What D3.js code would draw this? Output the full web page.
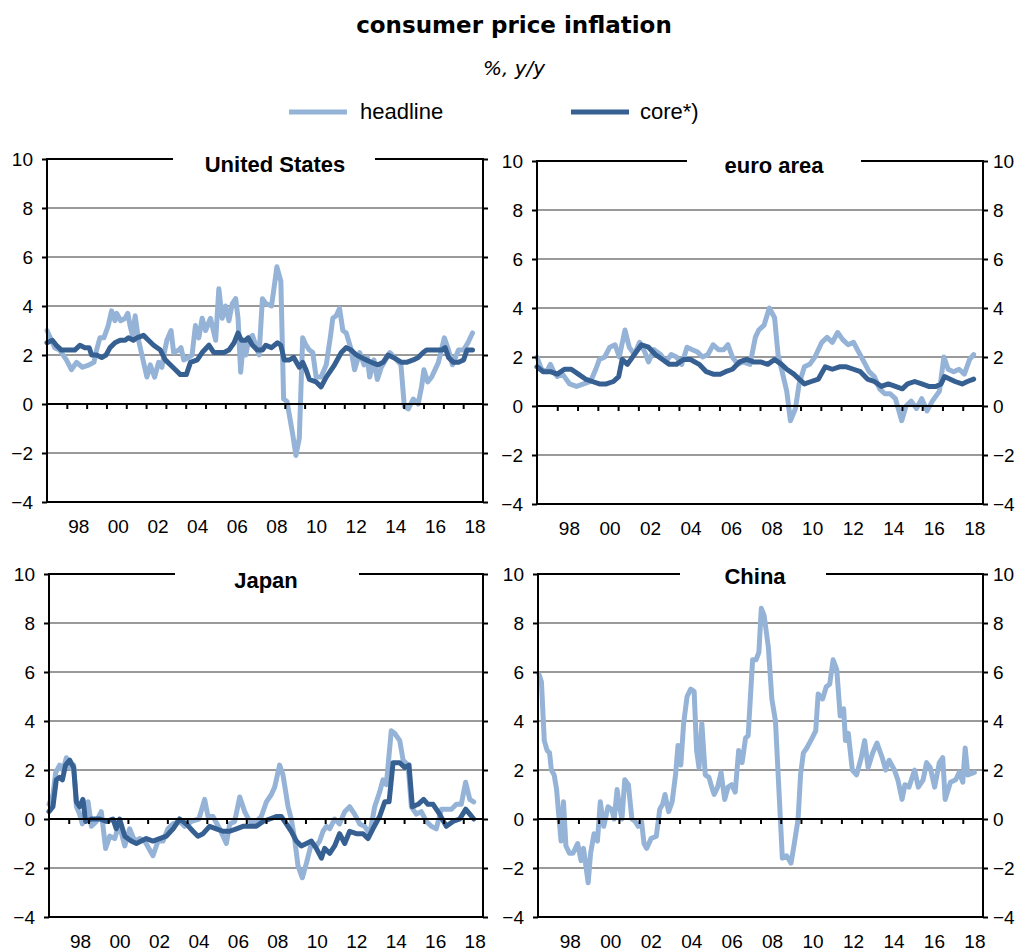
<!DOCTYPE html>
<html>
<head>
<meta charset="utf-8">
<script src="https://cdn.jsdelivr.net/npm/d3@7"></script>
<style>
  html, body { margin: 0; padding: 0; background: #fff; }
  svg { display: block; }
</style>
</head>
<body>
<svg id="chart" width="1026" height="952"></svg>
<script>
// ---------- DATA (decimal year, % y/y) ----------
const usHeadline = [[1997.00,3.0],[1997.39,2.3],[1997.64,2.2],[1997.98,1.8],[1998.23,1.4],[1998.49,1.7],[1998.79,1.5],[1999.13,1.6],[1999.37,1.7],[1999.50,2.2],[1999.67,2.7],[1999.87,2.7],[2000.09,3.2],[2000.26,3.8],[2000.43,3.4],[2000.52,3.7],[2000.72,3.4],[2000.94,3.5],[2001.08,3.7],[2001.19,3.2],[2001.31,2.8],[2001.45,3.6],[2001.62,2.6],[2001.79,2.0],[2002.04,1.1],[2002.21,1.6],[2002.43,1.1],[2002.63,1.7],[2002.80,1.5],[2002.92,2.1],[2003.05,2.6],[2003.26,3.0],[2003.39,2.1],[2003.65,2.2],[2003.76,2.3],[2003.90,1.8],[2004.15,1.9],[2004.32,2.0],[2004.49,3.2],[2004.66,2.7],[2004.83,3.5],[2005.00,3.0],[2005.25,3.5],[2005.51,2.6],[2005.67,4.7],[2005.84,3.5],[2006.01,4.0],[2006.18,3.4],[2006.35,4.1],[2006.52,4.3],[2006.64,3.5],[2006.77,1.3],[2006.91,2.5],[2007.03,2.0],[2007.20,2.7],[2007.37,2.8],[2007.53,2.4],[2007.70,2.0],[2007.87,4.3],[2008.04,4.1],[2008.33,4.0],[2008.50,5.0],[2008.60,5.6],[2008.80,5.0],[2008.94,0.2],[2009.11,0.1],[2009.39,-1.2],[2009.56,-2.1],[2009.73,-1.4],[2009.90,2.7],[2010.07,2.4],[2010.24,2.2],[2010.41,2.1],[2010.58,1.1],[2010.83,1.1],[2011.09,1.6],[2011.31,2.8],[2011.42,3.5],[2011.59,3.6],[2011.76,3.9],[2011.93,3.0],[2012.10,2.9],[2012.32,2.3],[2012.52,1.4],[2012.78,2.1],[2013.00,1.6],[2013.16,1.9],[2013.28,1.1],[2013.50,1.8],[2013.67,1.0],[2013.87,1.5],[2014.30,2.1],[2014.64,1.8],[2014.86,1.6],[2015.03,-0.1],[2015.23,-0.2],[2015.48,0.2],[2015.73,0.0],[2015.90,0.7],[2016.02,1.4],[2016.21,0.9],[2016.41,1.1],[2016.75,1.7],[2017.05,2.7],[2017.26,2.2],[2017.46,1.6],[2017.76,2.2],[2018.02,2.2],[2018.24,2.5],[2018.47,2.9]];
const usCore = [[1997.00,2.5],[1997.27,2.6],[1997.47,2.4],[1997.73,2.2],[1998.07,2.2],[1998.40,2.2],[1998.66,2.4],[1998.91,2.3],[1999.13,2.3],[1999.25,2.0],[1999.50,2.0],[1999.76,1.9],[1999.98,2.0],[2000.18,2.3],[2000.43,2.5],[2000.69,2.6],[2000.94,2.6],[2001.11,2.7],[2001.36,2.6],[2001.53,2.7],[2001.87,2.8],[2002.12,2.6],[2002.38,2.4],[2002.72,2.2],[2002.97,1.8],[2003.22,1.6],[2003.48,1.4],[2003.73,1.2],[2004.03,1.2],[2004.24,1.7],[2004.58,1.8],[2004.83,2.1],[2005.17,2.4],[2005.42,2.1],[2005.67,2.1],[2005.93,2.1],[2006.18,2.2],[2006.44,2.5],[2006.64,2.9],[2006.81,2.6],[2007.03,2.6],[2007.15,2.7],[2007.37,2.4],[2007.62,2.2],[2007.87,2.2],[2008.04,2.4],[2008.33,2.3],[2008.63,2.5],[2008.80,2.4],[2008.97,1.8],[2009.23,1.8],[2009.45,1.9],[2009.73,1.5],[2009.90,1.7],[2010.07,1.4],[2010.24,1.0],[2010.58,0.9],[2010.83,0.7],[2011.09,1.1],[2011.51,1.6],[2011.85,2.1],[2012.10,2.3],[2012.35,2.2],[2012.61,2.0],[2012.86,1.9],[2013.11,1.8],[2013.37,1.7],[2013.71,1.6],[2013.96,1.7],[2014.21,2.0],[2014.47,1.9],[2014.89,1.7],[2015.14,1.7],[2015.48,1.8],[2015.73,1.9],[2015.98,2.1],[2016.15,2.2],[2016.41,2.2],[2016.66,2.2],[2016.91,2.2],[2017.09,2.3],[2017.26,1.9],[2017.51,1.7],[2017.76,1.7],[2018.02,1.8],[2018.19,2.2],[2018.47,2.2]];

const euHeadline = [[1997.00,2.0],[1997.22,1.5],[1997.48,1.4],[1997.66,1.7],[1997.83,1.4],[1998.00,1.2],[1998.26,1.3],[1998.61,0.9],[1998.95,0.8],[1999.30,0.9],[1999.64,1.0],[1999.90,1.5],[2000.08,1.9],[2000.34,2.0],[2000.59,2.4],[2000.85,2.5],[2001.06,2.0],[2001.34,3.1],[2001.55,2.4],[2001.80,2.1],[2002.06,2.6],[2002.32,2.2],[2002.50,1.8],[2002.76,2.3],[2003.10,2.1],[2003.36,1.8],[2003.62,2.1],[2003.88,2.0],[2004.14,1.7],[2004.40,2.4],[2004.66,2.3],[2004.92,2.2],[2005.17,2.0],[2005.43,2.1],[2005.69,2.5],[2005.95,2.3],[2006.21,2.3],[2006.42,2.5],[2006.64,2.0],[2006.90,1.7],[2007.16,1.8],[2007.51,1.7],[2007.77,2.8],[2007.94,3.1],[2008.20,3.3],[2008.46,4.0],[2008.72,3.6],[2008.89,2.1],[2009.15,1.2],[2009.32,0.6],[2009.50,-0.6],[2009.75,-0.1],[2009.93,0.9],[2010.19,1.6],[2010.45,1.7],[2010.71,2.0],[2011.05,2.6],[2011.31,2.8],[2011.57,2.6],[2011.83,3.0],[2012.09,2.7],[2012.35,2.5],[2012.61,2.6],[2012.87,2.2],[2013.13,1.8],[2013.38,1.4],[2013.64,1.2],[2013.90,0.7],[2014.16,0.5],[2014.42,0.5],[2014.68,0.3],[2014.99,-0.6],[2015.20,0.0],[2015.46,0.2],[2015.72,-0.1],[2015.98,0.3],[2016.24,-0.2],[2016.50,0.2],[2016.85,0.6],[2017.07,2.0],[2017.28,1.5],[2017.55,1.4],[2017.82,1.5],[2018.08,1.3],[2018.34,1.9],[2018.54,2.1]];
const euCore = [[1997.00,1.6],[1997.31,1.4],[1997.66,1.4],[1998.00,1.3],[1998.35,1.5],[1998.69,1.5],[1999.04,1.3],[1999.39,1.1],[1999.73,1.0],[2000.08,0.9],[2000.42,0.9],[2000.77,1.0],[2001.03,1.2],[2001.20,1.9],[2001.46,1.7],[2001.80,2.1],[2002.15,2.5],[2002.50,2.4],[2002.84,2.1],[2003.19,1.9],[2003.53,1.7],[2003.88,1.7],[2004.22,1.9],[2004.57,1.9],[2005.00,1.7],[2005.35,1.4],[2005.69,1.3],[2006.04,1.3],[2006.30,1.4],[2006.64,1.5],[2006.99,1.8],[2007.34,1.9],[2007.68,1.8],[2008.03,1.8],[2008.38,1.7],[2008.72,1.9],[2009.06,1.7],[2009.32,1.5],[2009.67,1.3],[2009.93,1.1],[2010.19,0.9],[2010.53,1.0],[2010.88,1.1],[2011.22,1.6],[2011.57,1.5],[2011.92,1.6],[2012.26,1.6],[2012.61,1.5],[2012.95,1.4],[2013.30,1.1],[2013.64,1.0],[2013.99,0.8],[2014.33,0.9],[2014.68,0.8],[2015.02,0.7],[2015.28,0.9],[2015.63,1.0],[2015.98,0.9],[2016.32,0.8],[2016.67,0.8],[2016.93,0.9],[2017.10,1.2],[2017.36,1.1],[2017.62,1.0],[2017.97,0.9],[2018.23,1.0],[2018.54,1.1]];

const jpHeadline = [[1997.00,0.6],[1997.20,1.0],[1997.34,1.9],[1997.54,2.2],[1997.71,2.0],[1997.88,2.5],[1998.05,2.1],[1998.25,2.2],[1998.39,0.5],[1998.55,0.2],[1998.69,-0.2],[1998.86,0.6],[1998.98,0.7],[1999.15,-0.3],[1999.40,-0.1],[1999.65,0.3],[1999.87,-1.2],[2000.08,-0.7],[2000.33,-0.8],[2000.55,-0.2],[2000.84,-1.1],[2001.09,-0.4],[2001.34,-0.9],[2001.60,-0.8],[2001.85,-0.9],[2002.27,-1.5],[2002.53,-0.9],[2002.78,-0.9],[2003.03,-0.4],[2003.29,-0.2],[2003.62,-0.1],[2003.88,-0.3],[2004.22,-0.1],[2004.60,0.0],[2004.89,0.8],[2005.06,0.1],[2005.31,0.1],[2005.65,-0.4],[2005.99,-1.0],[2006.16,-0.2],[2006.41,-0.1],[2006.67,0.9],[2006.92,0.3],[2007.17,-0.1],[2007.51,-0.1],[2007.76,0.1],[2008.02,0.7],[2008.27,1.0],[2008.44,1.3],[2008.69,2.2],[2008.86,1.8],[2009.12,0.5],[2009.28,0.0],[2009.45,-0.8],[2009.62,-1.9],[2009.84,-2.4],[2010.05,-1.8],[2010.30,-1.0],[2010.55,-1.1],[2010.72,-0.9],[2010.89,-0.5],[2011.06,-0.3],[2011.23,-0.4],[2011.48,0.0],[2011.73,-0.2],[2011.99,0.3],[2012.24,0.5],[2012.49,0.2],[2012.75,-0.2],[2013.00,-0.3],[2013.26,-0.6],[2013.51,0.5],[2013.76,1.1],[2013.93,1.6],[2014.10,1.4],[2014.35,3.6],[2014.52,3.5],[2014.78,3.2],[2014.95,2.4],[2015.20,2.2],[2015.37,0.5],[2015.62,0.2],[2015.87,0.3],[2016.13,-0.1],[2016.38,-0.3],[2016.63,-0.4],[2016.89,0.4],[2017.14,0.4],[2017.40,0.4],[2017.65,0.6],[2017.90,0.6],[2018.12,1.5],[2018.33,0.8],[2018.53,0.7]];
const jpCore = [[1997.00,0.3],[1997.20,0.5],[1997.37,1.6],[1997.54,1.7],[1997.68,1.6],[1997.84,2.2],[1998.05,2.4],[1998.25,2.1],[1998.39,0.7],[1998.55,0.5],[1998.72,0.8],[1998.86,-0.1],[1999.15,0.0],[1999.57,0.0],[1999.91,-0.1],[2000.24,0.0],[2000.41,-0.4],[2000.58,0.0],[2000.84,-0.7],[2001.17,-0.9],[2001.43,-1.0],[2001.68,-0.9],[2001.93,-0.8],[2002.27,-0.9],[2002.61,-0.8],[2002.95,-0.7],[2003.29,-0.4],[2003.62,0.0],[2003.96,-0.2],[2004.30,-0.5],[2004.55,-0.7],[2004.81,-0.6],[2005.14,-0.3],[2005.48,-0.4],[2005.82,-0.5],[2006.16,-0.5],[2006.50,-0.4],[2006.83,-0.3],[2007.17,-0.3],[2007.51,-0.3],[2007.85,-0.1],[2008.19,0.0],[2008.52,0.1],[2008.78,0.1],[2009.03,-0.2],[2009.28,-0.5],[2009.54,-0.9],[2009.79,-1.1],[2010.05,-1.0],[2010.30,-0.9],[2010.55,-1.2],[2010.81,-1.6],[2010.97,-1.2],[2011.23,-1.4],[2011.48,-1.1],[2011.73,-0.6],[2011.99,-1.0],[2012.24,-0.5],[2012.58,-0.6],[2012.92,-0.6],[2013.17,-0.8],[2013.42,-0.4],[2013.76,0.1],[2014.02,0.7],[2014.24,0.7],[2014.44,2.3],[2014.78,2.3],[2015.03,2.1],[2015.25,2.2],[2015.42,0.5],[2015.71,0.6],[2015.99,0.8],[2016.21,0.6],[2016.47,0.6],[2016.80,0.2],[2017.14,-0.3],[2017.48,-0.1],[2017.82,0.0],[2018.12,0.4],[2018.33,0.2],[2018.53,0.0]];

const cnHeadline = [[1997.05,5.9],[1997.17,5.6],[1997.31,3.2],[1997.45,2.8],[1997.57,2.7],[1997.66,2.0],[1997.80,1.8],[1997.92,1.2],[1998.00,0.4],[1998.14,-0.9],[1998.26,0.7],[1998.38,-1.1],[1998.56,-1.4],[1998.73,-1.4],[1998.96,-1.0],[1999.13,-1.7],[1999.25,-1.2],[1999.48,-2.6],[1999.60,-1.4],[1999.77,-0.6],[1999.94,-0.9],[2000.08,0.7],[2000.25,-0.3],[2000.46,0.5],[2000.64,0.4],[2000.77,0.0],[2000.91,1.2],[2001.03,0.5],[2001.15,0.0],[2001.29,1.6],[2001.47,1.4],[2001.64,0.0],[2001.81,-0.1],[2001.95,-0.3],[2002.12,-0.1],[2002.24,-1.0],[2002.37,-1.2],[2002.59,-0.8],[2002.85,-0.7],[2003.02,0.4],[2003.16,0.6],[2003.28,1.0],[2003.46,0.3],[2003.63,0.7],[2003.80,1.8],[2003.92,3.0],[2004.06,2.2],[2004.20,3.9],[2004.37,5.0],[2004.55,5.3],[2004.72,5.2],[2004.84,2.8],[2004.96,2.1],[2005.10,3.9],[2005.27,1.8],[2005.45,1.7],[2005.59,1.3],[2005.71,1.0],[2005.88,1.3],[2006.05,1.9],[2006.23,0.8],[2006.40,1.3],[2006.57,1.4],[2006.75,1.1],[2006.92,2.8],[2007.09,2.3],[2007.26,3.3],[2007.39,3.4],[2007.61,6.5],[2007.78,6.5],[2007.92,6.8],[2008.04,8.6],[2008.18,8.3],[2008.39,7.0],[2008.56,4.9],[2008.74,4.0],[2008.91,1.2],[2009.08,-1.6],[2009.29,-1.5],[2009.51,-1.8],[2009.69,-0.9],[2009.86,0.0],[2009.98,1.8],[2010.12,2.7],[2010.29,2.9],[2010.55,3.3],[2010.73,3.6],[2010.85,5.1],[2011.07,4.9],[2011.25,5.4],[2011.42,5.5],[2011.59,6.5],[2011.77,6.1],[2011.94,4.2],[2012.11,4.5],[2012.20,3.2],[2012.34,3.5],[2012.54,2.0],[2012.75,1.8],[2012.98,2.5],[2013.15,3.2],[2013.32,2.1],[2013.55,2.7],[2013.76,3.1],[2014.02,2.5],[2014.19,2.0],[2014.36,2.4],[2014.62,2.0],[2014.79,1.6],[2015.00,0.8],[2015.14,1.4],[2015.34,1.3],[2015.62,2.0],[2015.80,1.3],[2016.04,1.6],[2016.21,2.3],[2016.39,2.1],[2016.61,1.3],[2016.84,2.3],[2017.01,2.5],[2017.13,0.8],[2017.39,1.5],[2017.65,1.6],[2017.82,1.9],[2018.00,1.5],[2018.12,2.9],[2018.25,1.8],[2018.57,1.9]];

const yTicks = [-4, -2, 0, 2, 4, 6, 8, 10];
const yearTicks = d3.range(1998, 2019);           // tick marks at each year
const yearLabels = [1998, 2000, 2002, 2004, 2006, 2008, 2010, 2012, 2014, 2016, 2018];
const seriesNames = ["headline", "core*)"];
const mainTitle = "consumer price inflation";
const subTitle = "%, y/y";

// ---------- STYLE ----------
const cHead = "#95B3D7", cCore = "#376092";
const gridColor = "#9a9a9a";
const axisFont = "'Liberation Sans', Arial, sans-serif";

const panels = [
  {title: "United States", x0: 47, x1: 483, y0: 159, y1: 502, gap: [173, 375], tx: 275, ty: 172, rightLabels: false, data: [usHeadline, usCore]},
  {title: "euro area", x0: 537, x1: 983, y0: 161, y1: 504, gap: [687, 861], tx: 774, ty: 173, rightLabels: true, data: [euHeadline, euCore]},
  {title: "Japan", x0: 49, x1: 483, y0: 574, y1: 917, gap: [175, 359], tx: 266, ty: 588, rightLabels: false, data: [jpHeadline, jpCore]},
  {title: "China", x0: 538, x1: 983, y0: 574, y1: 917, gap: [680, 826], tx: 755, ty: 584, rightLabels: true, data: [cnHeadline]}
];

const svg = d3.select("#chart");

// titles
svg.append("text").attr("x", 514).attr("y", 33).attr("text-anchor", "middle")
  .attr("font-family", "'DejaVu Sans', Verdana, sans-serif").attr("font-weight", "bold")
  .attr("font-size", 23).text(mainTitle);
svg.append("text").attr("x", 514).attr("y", 75).attr("text-anchor", "middle")
  .attr("font-family", "'DejaVu Sans', Verdana, sans-serif").attr("font-style", "italic")
  .attr("font-size", 20).text(subTitle);

// legend
const legend = [
  {name: seriesNames[0], color: cHead, lx: 289, tx: 360},
  {name: seriesNames[1], color: cCore, lx: 571, tx: 640}
];
legend.forEach(l => {
  svg.append("line").attr("x1", l.lx).attr("x2", l.lx + 58).attr("y1", 112).attr("y2", 112)
    .attr("stroke", l.color).attr("stroke-width", 5);
  svg.append("text").attr("x", l.tx).attr("y", 119).attr("font-family", axisFont)
    .attr("font-size", 22).attr("fill", "#000").text(l.name);
});

panels.forEach(p => {
  const g = svg.append("g");
  const x = d3.scaleLinear().domain([1997, 2019]).range([p.x0, p.x1]);
  const y = d3.scaleLinear().domain([-4, 10]).range([p.y1, p.y0]);

  // gridlines (gray)
  g.selectAll(".grid").data(yTicks.filter(v => v !== 0 && v !== -4 && v !== 10)).enter()
    .append("line").attr("x1", p.x0).attr("x2", p.x1)
    .attr("y1", d => y(d)).attr("y2", d => y(d))
    .attr("stroke", gridColor).attr("stroke-width", 2);

  // series lines
  const line = d3.line().x(d => x(d[0])).y(d => y(d[1]));
  p.data.forEach((ser, i) => {
    g.append("path").datum(ser).attr("d", line).attr("fill", "none")
      .attr("stroke", i === 0 ? cHead : cCore).attr("stroke-width", 5)
      .attr("stroke-linejoin", "round").attr("stroke-linecap", "round");
  });

  // left axis
  const leftAxis = d3.axisLeft(y).tickValues(yTicks).tickSize(5).tickPadding(9);
  const la = g.append("g").attr("transform", `translate(${p.x0},0)`).call(leftAxis);
  // right axis
  const rightAxis = d3.axisRight(y).tickValues(yTicks).tickSize(5).tickPadding(5)
    .tickFormat(p.rightLabels ? d3.format("d") : "");
  const ra = g.append("g").attr("transform", `translate(${p.x1},0)`).call(rightAxis);
  [la, ra].forEach(a => {
    a.select(".domain").remove();
    a.selectAll("line").attr("stroke", "#000").attr("stroke-width", 2);
    a.selectAll("text").attr("font-family", axisFont).attr("font-size", 19).attr("fill", "#000");
  });
  g.append("line").attr("x1", p.x0).attr("x2", p.x0).attr("y1", p.y0 - 1).attr("y2", p.y1 + 1)
    .attr("stroke", "#000").attr("stroke-width", 2);
  g.append("line").attr("x1", p.x1).attr("x2", p.x1).attr("y1", p.y0 - 1).attr("y2", p.y1 + 1)
    .attr("stroke", "#000").attr("stroke-width", 2);

  // x axis at zero with year ticks
  const xAxis = d3.axisBottom(x).tickValues(yearTicks).tickSize(5).tickFormat("");
  const xa = g.append("g").attr("transform", `translate(0,${y(0)})`).call(xAxis);
  xa.select(".domain").remove();
  xa.selectAll("line").attr("stroke", "#000").attr("stroke-width", 2);
  g.append("line").attr("x1", p.x0).attr("x2", p.x1).attr("y1", y(0)).attr("y2", y(0))
    .attr("stroke", "#000").attr("stroke-width", 2);

  // bottom border
  g.append("line").attr("x1", p.x0).attr("x2", p.x1).attr("y1", p.y1).attr("y2", p.y1)
    .attr("stroke", "#000").attr("stroke-width", 2);
  // top border with gap for title
  g.append("line").attr("x1", p.x0).attr("x2", p.gap[0]).attr("y1", p.y0).attr("y2", p.y0)
    .attr("stroke", "#000").attr("stroke-width", 2);
  g.append("line").attr("x1", p.gap[1]).attr("x2", p.x1).attr("y1", p.y0).attr("y2", p.y0)
    .attr("stroke", "#000").attr("stroke-width", 2);

  // year labels below the panel
  g.selectAll(".yl").data(yearLabels).enter().append("text")
    .attr("x", d => x(d + 0.5) + 2).attr("y", p.y1 + 24).attr("dy", "0.35em")
    .attr("text-anchor", "middle").attr("font-family", axisFont).attr("font-size", 19)
    .text(d => String(d % 100).padStart(2, "0"));

  // panel title
  g.append("text").attr("x", p.tx).attr("y", p.ty).attr("text-anchor", "middle")
    .attr("font-family", axisFont).attr("font-weight", "bold").attr("font-size", 22)
    .text(p.title);
});
</script>
</body>
</html>
